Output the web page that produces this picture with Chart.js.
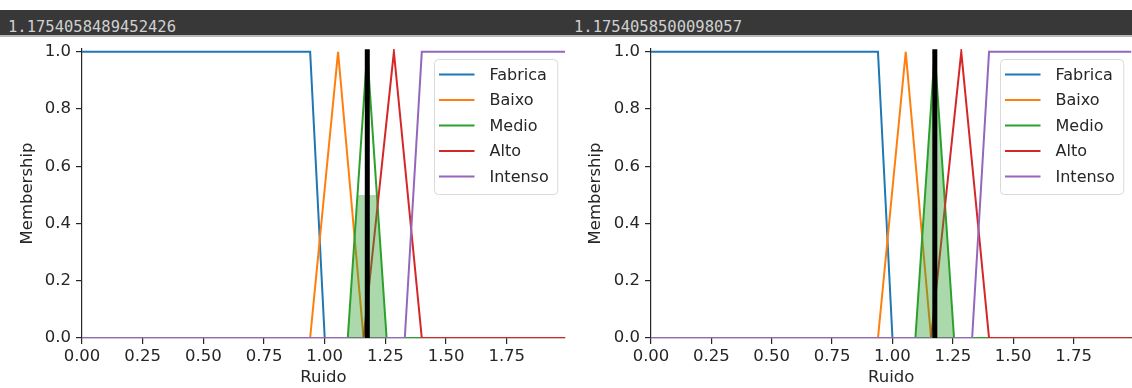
<!DOCTYPE html>
<html>
<head>
<meta charset="utf-8">
<script src="https://cdn.jsdelivr.net/npm/chart.js@4.4.1/dist/chart.umd.min.js"></script>
<style>
  html, body { margin: 0; padding: 0; background: #fff; }
  body { width: 1132px; height: 388px; position: relative; overflow: hidden; }
  #hdr { position: absolute; left: 0; top: 10px; width: 1132px; height: 25px; background: #383838; border-bottom: 2px solid #b8b8b8; z-index: 2; }
  #hdr span { position: absolute; top: 8px; font: 15.5px 'DejaVu Sans Mono', monospace; color: #d0d0d0; line-height: 18px; white-space: pre; }
  canvas { position: absolute; top: 30px; }
  #c1 { left: 0; }
  #c2 { left: 568px; }
</style>
</head>
<body>
<div id="hdr"><span id="h1" style="left:8px"></span><span id="h2" style="left:574px"></span></div>
<canvas id="c1" width="570" height="358"></canvas>
<canvas id="c2" width="564" height="358"></canvas>
<script>
// valores impressos acima de cada grafico (= valor defuzzificado)
const headerValues = ['1.1754058489452426', '1.1754058500098057'];
const crispValues = [1.1754058489452426, 1.1754058500098057];

// termos da variavel Ruido
const termNames = ['Fabrica', 'Baixo', 'Medio', 'Alto', 'Intenso'];
const fabricaX = [0, 0.94, 1.00, 1.99];
const fabricaY = [1, 1, 0, 0];
const baixoX = [0, 0.94, 1.055, 1.16, 1.99];
const baixoY = [0, 0, 1, 0, 0];
const medioX = [0, 1.095, 1.175, 1.255, 1.99];
const medioY = [0, 0, 1, 0, 0];
const altoX = [0, 1.16, 1.285, 1.40, 1.99];
const altoY = [0, 0, 1, 0, 0];
const intensoX = [0, 1.33, 1.40, 1.99];
const intensoY = [0, 0, 1, 1];

// area ativada (Medio cortado) em cada grafico
const cutLeftX = [1.095, 1.135, 1.215, 1.255];
const cutLeftY = [0, 0.5, 0.5, 0];
const cutRightX = [1.095, 1.175, 1.255];
const cutRightY = [0, 1, 0];
const crispY = [0, 1];

const xTicks = [0, 0.25, 0.5, 0.75, 1.0, 1.25, 1.5, 1.75];
const yTicks = [0, 0.2, 0.4, 0.6, 0.8, 1.0];
const xMax = 1.99;
const yMax = 1.01;

const termX = [fabricaX, baixoX, medioX, altoX, intensoX];
const termY = [fabricaY, baixoY, medioY, altoY, intensoY];
const termColors = ['#1f77b4', '#ff7f0e', '#2ca02c', '#d62728', '#9467bd'];
const textColor = '#262626';

document.getElementById('h1').textContent = headerValues[0];
document.getElementById('h2').textContent = headerValues[1];

const toPoints = (xs, ys) => xs.map((x, i) => ({ x: x, y: ys[i] }));

// legenda com caixa, estilo matplotlib, dentro da area do grafico
const boxLegend = {
    id: 'boxLegend',
    afterDraw(chart) {
        const ctx = chart.ctx;
        const area = chart.chartArea;
        const items = chart.data.datasets.filter(d => d.label);
        ctx.save();
        ctx.font = '16px "DejaVu Sans"';
        const textW = Math.max(...items.map(d => ctx.measureText(d.label).width));
        const w = 55 + textW + 9, h = 135, r = 4;
        const x = Math.round(area.right - 8 - w) + 0.5, y = Math.round(area.top + 10) + 0.5;
        ctx.beginPath();
        ctx.moveTo(x + r, y);
        ctx.arcTo(x + w, y, x + w, y + h, r);
        ctx.arcTo(x + w, y + h, x, y + h, r);
        ctx.arcTo(x, y + h, x, y, r);
        ctx.arcTo(x, y, x + w, y, r);
        ctx.closePath();
        ctx.fillStyle = 'rgba(255,255,255,0.8)';
        ctx.fill();
        ctx.strokeStyle = '#d9d9d9';
        ctx.lineWidth = 1;
        ctx.stroke();
        items.forEach((d, i) => {
            const cy = y + 15 + i * 25.5;
            ctx.strokeStyle = d.borderColor;
            ctx.lineWidth = 2;
            ctx.beginPath();
            ctx.moveTo(x + 4.5, cy);
            ctx.lineTo(x + 40, cy);
            ctx.stroke();
            ctx.fillStyle = textColor;
            ctx.textBaseline = 'middle';
            ctx.fillText(d.label, x + 55, cy + 1);
        });
        ctx.restore();
    }
};

function drawRuido(canvasId, crisp, cutX, cutY, yAxisWidth, padRight) {
    const datasets = termNames.map((name, i) => ({
        label: name,
        data: toPoints(termX[i], termY[i]),
        borderColor: termColors[i],
        borderWidth: 2,
        pointRadius: 0,
        fill: false,
        order: 6 - i + 1
    }));
    datasets.push({
        data: toPoints(cutX, cutY),
        borderWidth: 0,
        borderColor: 'rgba(0,0,0,0)',
        backgroundColor: 'rgba(44,160,44,0.4)',
        pointRadius: 0,
        fill: 'origin',
        order: 1
    });
    datasets.push({
        data: toPoints([crisp, crisp], crispY),
        borderColor: '#000',
        borderWidth: 5,
        borderCapStyle: 'square',
        pointRadius: 0,
        fill: false,
        clip: 0,
        order: 0
    });

    return new Chart(document.getElementById(canvasId), {
        type: 'line',
        data: { datasets: datasets },
        plugins: [boxLegend],
        options: {
            responsive: false,
            animation: false,
            devicePixelRatio: 1,
            layout: { padding: { left: 0, right: padRight, top: 19, bottom: 0 } },
            plugins: { legend: { display: false }, tooltip: { enabled: false } },
            scales: {
                x: {
                    type: 'linear', min: 0, max: xMax,
                    afterBuildTicks: s => { s.ticks = xTicks.map(v => ({ value: v })); },
                    afterFit: s => { s.height = 50; s.paddingLeft = 0; s.paddingRight = 0; },
                    ticks: { callback: v => v.toFixed(2), padding: 3, color: textColor, maxRotation: 0, autoSkip: false, font: { size: 16.5 } },
                    grid: { drawOnChartArea: false, drawTicks: true, tickLength: 6, color: textColor, lineWidth: 1.2 },
                    border: { display: true, color: textColor, width: 1.2 },
                    title: { display: true, text: 'Ruido', color: textColor, font: { size: 16.5 }, padding: { top: 0, bottom: 0 } }
                },
                y: {
                    type: 'linear', min: 0, max: yMax,
                    afterBuildTicks: s => { s.ticks = yTicks.map(v => ({ value: v })); },
                    afterFit: s => { s.width = yAxisWidth; s.paddingTop = 0; s.paddingBottom = 0; },
                    ticks: { callback: v => v.toFixed(1), padding: 5, color: textColor, font: { size: 16.5 } },
                    grid: { drawOnChartArea: false, drawTicks: true, tickLength: 6, color: textColor, lineWidth: 1.2 },
                    border: { display: true, color: textColor, width: 1.2 },
                    title: { display: true, text: 'Membership', color: textColor, font: { size: 16.5 }, padding: { top: 18, bottom: 0 } }
                }
            }
        }
    });
}

Chart.defaults.font.family = '"DejaVu Sans", sans-serif';
Chart.defaults.font.size = 16;
Chart.defaults.color = textColor;

drawRuido('c1', crispValues[0], cutLeftX, cutLeftY, 82, 5);
drawRuido('c2', crispValues[1], cutRightX, cutRightY, 83, 0.5);
</script>
</body>
</html>
